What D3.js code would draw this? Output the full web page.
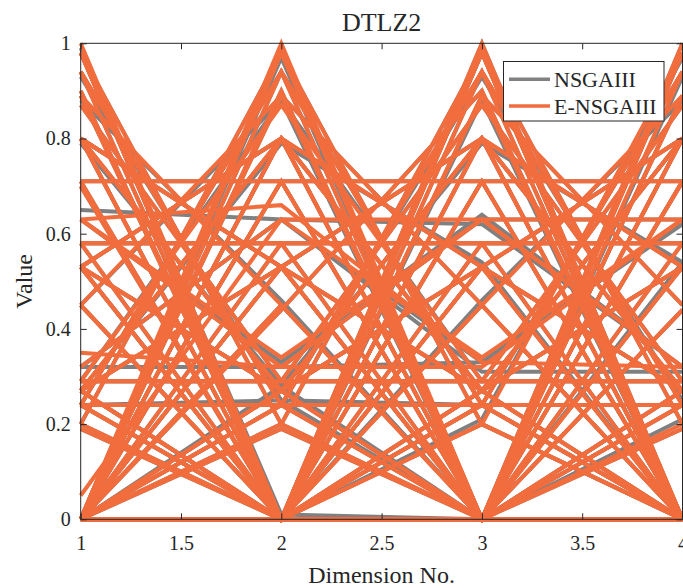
<!DOCTYPE html>
<html>
<head>
<meta charset="utf-8">
<script src="https://cdn.jsdelivr.net/npm/d3@7"></script>
<style>
  body { margin: 0; background: #fff; }
  text { font-family: "Liberation Serif", "Times New Roman", serif; fill: #262626; }
</style>
</head>
<body>
<div id="chart"></div>
<script>
// parallel coordinates of the final populations, one row = one solution
const dims = [1, 2, 3, 4];
const xTicks = [1, 1.5, 2, 2.5, 3, 3.5, 4];
const yTicks = [0, 0.2, 0.4, 0.6, 0.8, 1];
const seriesNames = ["NSGAIII", "E-NSGAIII"];

const nsgaiii = [
  [0.99,0.01,0.00,0.00],[0.00,0.99,0.00,0.00],[0.00,0.00,1.00,0.00],[0.00,0.00,0.00,1.00],
  [0.98,0.20,0.00,0.00],[0.98,0.00,0.20,0.00],[0.98,0.00,0.00,0.19],[0.20,0.98,0.00,0.00],
  [0.00,0.98,0.20,0.00],[0.00,0.97,0.00,0.21],[0.19,0.00,0.98,0.00],[0.00,0.20,0.98,0.00],
  [0.00,0.00,0.98,0.20],[0.20,0.00,0.00,0.98],[0.00,0.19,0.00,0.98],[0.00,0.00,0.21,0.97],
  [0.88,0.46,0.00,0.00],[0.89,0.00,0.45,0.00],[0.90,0.00,0.00,0.44],[0.45,0.88,0.00,0.00],
  [0.00,0.89,0.45,0.00],[0.00,0.90,0.00,0.44],[0.45,0.00,0.88,0.00],[0.00,0.44,0.90,0.00],
  [0.00,0.00,0.89,0.45],[0.45,0.00,0.00,0.89],[0.00,0.45,0.00,0.89],[0.00,0.00,0.46,0.88],
  [0.71,0.71,0.00,0.00],[0.71,0.00,0.71,0.00],[0.70,0.00,0.00,0.71],
  [0.00,0.71,0.71,0.00],[0.00,0.71,0.00,0.71],[0.00,0.00,0.71,0.71],
  [0.94,0.00,0.24,0.24],[0.94,0.24,0.00,0.24],[0.93,0.25,0.24,0.00],[0.00,0.94,0.24,0.24],
  [0.24,0.94,0.00,0.24],[0.24,0.94,0.24,0.00],[0.00,0.24,0.93,0.25],[0.24,0.00,0.94,0.24],
  [0.24,0.24,0.94,0.00],[0.00,0.24,0.24,0.94],[0.24,0.00,0.24,0.94],[0.24,0.25,0.00,0.93],
  [0.80,0.53,0.27,0.00],[0.80,0.53,0.00,0.27],[0.80,0.27,0.53,0.00],[0.79,0.28,0.00,0.54],
  [0.80,0.00,0.53,0.27],[0.80,0.00,0.27,0.53],[0.53,0.80,0.27,0.00],[0.53,0.80,0.00,0.27],
  [0.27,0.79,0.54,0.00],[0.27,0.80,0.00,0.53],[0.00,0.80,0.53,0.27],[0.00,0.80,0.27,0.53],
  [0.53,0.27,0.80,0.00],[0.53,0.00,0.80,0.27],[0.27,0.53,0.80,0.00],[0.27,0.00,0.80,0.53],
  [0.00,0.53,0.80,0.27],[0.00,0.28,0.79,0.54],[0.53,0.27,0.00,0.80],[0.53,0.00,0.27,0.80],
  [0.27,0.53,0.00,0.80],[0.27,0.00,0.53,0.80],[0.00,0.53,0.27,0.80],[0.00,0.27,0.53,0.80],
  [0.58,0.58,0.58,0.00],[0.58,0.58,0.00,0.58],[0.58,0.00,0.58,0.58],[0.00,0.58,0.58,0.58],
  [0.87,0.29,0.29,0.29],[0.29,0.88,0.29,0.29],[0.29,0.29,0.87,0.29],[0.29,0.29,0.29,0.87],
  [0.65,0.63,0.31,0.31],[0.63,0.33,0.64,0.32],[0.63,0.32,0.33,0.62],
  [0.32,0.63,0.62,0.32],[0.32,0.63,0.33,0.63],[0.32,0.32,0.63,0.63]
];

const ensgaiii = [
  [1.00,0.00,0.00,0.00],[0.00,1.00,0.00,0.00],[0.00,0.00,1.00,0.00],[0.00,0.00,0.00,1.00],
  [0.98,0.20,0.00,0.00],[0.98,0.00,0.20,0.00],[0.98,0.00,0.00,0.19],[0.20,0.98,0.00,0.00],
  [0.00,0.98,0.20,0.00],[0.00,0.98,0.00,0.20],[0.19,0.00,0.98,0.00],[0.00,0.20,0.98,0.00],
  [0.00,0.00,0.98,0.20],[0.20,0.00,0.00,0.98],[0.00,0.19,0.00,0.98],[0.00,0.00,0.20,0.98],
  [0.89,0.45,0.00,0.00],[0.89,0.00,0.45,0.00],[0.90,0.00,0.00,0.44],[0.45,0.89,0.00,0.00],
  [0.00,0.89,0.45,0.00],[0.00,0.90,0.00,0.44],[0.45,0.00,0.89,0.00],[0.00,0.44,0.90,0.00],
  [0.00,0.00,0.89,0.45],[0.45,0.00,0.00,0.89],[0.00,0.45,0.00,0.89],[0.00,0.00,0.45,0.89],
  [0.71,0.71,0.00,0.00],[0.71,0.00,0.71,0.00],[0.70,0.00,0.00,0.71],
  [0.00,0.71,0.71,0.00],[0.00,0.71,0.00,0.71],[0.00,0.00,0.71,0.71],
  [0.94,0.00,0.24,0.24],[0.94,0.24,0.00,0.24],[0.94,0.24,0.24,0.00],[0.00,0.94,0.24,0.24],
  [0.24,0.94,0.00,0.24],[0.24,0.94,0.24,0.00],[0.00,0.24,0.94,0.24],[0.24,0.00,0.94,0.24],
  [0.24,0.24,0.94,0.00],[0.00,0.24,0.24,0.94],[0.24,0.00,0.24,0.94],[0.24,0.24,0.00,0.94],
  [0.80,0.53,0.27,0.00],[0.80,0.53,0.00,0.27],[0.80,0.27,0.53,0.00],[0.80,0.27,0.00,0.53],
  [0.80,0.00,0.53,0.27],[0.80,0.00,0.27,0.53],[0.53,0.80,0.27,0.00],[0.53,0.80,0.00,0.27],
  [0.27,0.80,0.53,0.00],[0.27,0.80,0.00,0.53],[0.00,0.80,0.53,0.27],[0.00,0.80,0.27,0.53],
  [0.53,0.27,0.80,0.00],[0.53,0.00,0.80,0.27],[0.27,0.53,0.80,0.00],[0.27,0.00,0.80,0.53],
  [0.00,0.53,0.80,0.27],[0.00,0.27,0.80,0.53],[0.53,0.27,0.00,0.80],[0.53,0.00,0.27,0.80],
  [0.27,0.53,0.00,0.80],[0.27,0.00,0.53,0.80],[0.00,0.53,0.27,0.80],[0.00,0.27,0.53,0.80],
  [0.58,0.58,0.58,0.00],[0.58,0.58,0.00,0.58],[0.58,0.00,0.58,0.58],[0.00,0.58,0.58,0.58],
  [0.87,0.29,0.29,0.29],[0.29,0.87,0.29,0.29],[0.29,0.29,0.87,0.29],[0.29,0.29,0.29,0.87],
  [0.63,0.66,0.33,0.32],[0.63,0.34,0.63,0.32],[0.63,0.32,0.32,0.63],
  [0.32,0.63,0.63,0.32],[0.05,0.63,0.34,0.63],[0.35,0.32,0.63,0.63]
];

const W = 683, H = 588;
const colors = ["#808080", "#f26d3d"];

const svg = d3.select("#chart").append("svg")
  .attr("width", W)
  .attr("height", H);

const x = d3.scaleLinear().domain([1, 4]).range([80.7, 682.5]);
const y = d3.scaleLinear().domain([0, 1]).range([519.3, 43.3]);

const line = d3.line()
  .x((d, i) => x(dims[i]))
  .y(d => y(d));

// the lines, NSGAIII underneath
[nsgaiii, ensgaiii].forEach((rows, k) => {
  svg.append("g")
    .selectAll("path")
    .data(rows)
    .enter()
    .append("path")
    .attr("d", line)
    .attr("fill", "none")
    .attr("stroke", colors[k])
    .attr("stroke-width", 4)
    .attr("stroke-linejoin", "miter")
    .attr("stroke-miterlimit", 10);
});

// box + ticks on all four sides (ticks point inwards)
const axColor = "#262626";
const xAxis = d3.axisBottom(x).tickValues(xTicks).tickFormat(d3.format("")).tickSizeInner(-6).tickSizeOuter(0).tickPadding(17);
const yAxis = d3.axisLeft(y).tickValues(yTicks).tickFormat(d3.format("")).tickSizeInner(-6).tickSizeOuter(0).tickPadding(10);

svg.append("g").attr("transform", "translate(0," + y(0) + ")").call(xAxis);
svg.append("g").attr("transform", "translate(" + x(1) + ",0)").call(yAxis);
svg.append("g").attr("transform", "translate(0," + y(1) + ")")
  .call(d3.axisTop(x).tickValues(xTicks).tickFormat("").tickSizeInner(-6).tickSizeOuter(0));
svg.append("g").attr("transform", "translate(" + x(4) + ",0)")
  .call(d3.axisRight(y).tickValues(yTicks).tickFormat("").tickSizeInner(-6).tickSizeOuter(0));

svg.selectAll(".domain").remove();
svg.selectAll(".tick line").attr("stroke", axColor);
svg.selectAll(".tick text").attr("font-size", 20).attr("fill", axColor)
  .style("font-family", "'Liberation Serif', 'Times New Roman', serif");

svg.append("rect")
  .attr("x", x(1)).attr("y", y(1))
  .attr("width", x(4) - x(1)).attr("height", y(0) - y(1))
  .attr("fill", "none")
  .attr("stroke", axColor)
  .attr("stroke-width", 1);

// titles
svg.append("text")
  .attr("x", (x(1) + x(4)) / 2).attr("y", 31)
  .attr("text-anchor", "middle").attr("font-size", 26)
  .text("DTLZ2");

svg.append("text")
  .attr("x", (x(1) + x(4)) / 2).attr("y", 583)
  .attr("text-anchor", "middle").attr("font-size", 24)
  .text("Dimension No.");

svg.append("text")
  .attr("transform", "translate(32," + (y(0) + y(1)) / 2 + ") rotate(-90)")
  .attr("text-anchor", "middle").attr("font-size", 24)
  .text("Value");

// legend
const legend = svg.append("g").attr("id", "legend");
legend.append("rect")
  .attr("x", 503.5).attr("y", 61.5)
  .attr("width", 160.5).attr("height", 59.5)
  .attr("fill", "#fff")
  .attr("stroke", axColor)
  .attr("stroke-width", 1);

seriesNames.forEach((name, i) => {
  const ly = 79.3 + i * 26.7;
  legend.append("line")
    .attr("x1", 509).attr("x2", 550)
    .attr("y1", ly).attr("y2", ly)
    .attr("stroke", colors[i])
    .attr("stroke-width", 3.5);
  legend.append("text")
    .attr("x", 554).attr("y", ly + 7.5)
    .attr("font-size", 22)
    .text(name);
});
</script>
</body>
</html>
